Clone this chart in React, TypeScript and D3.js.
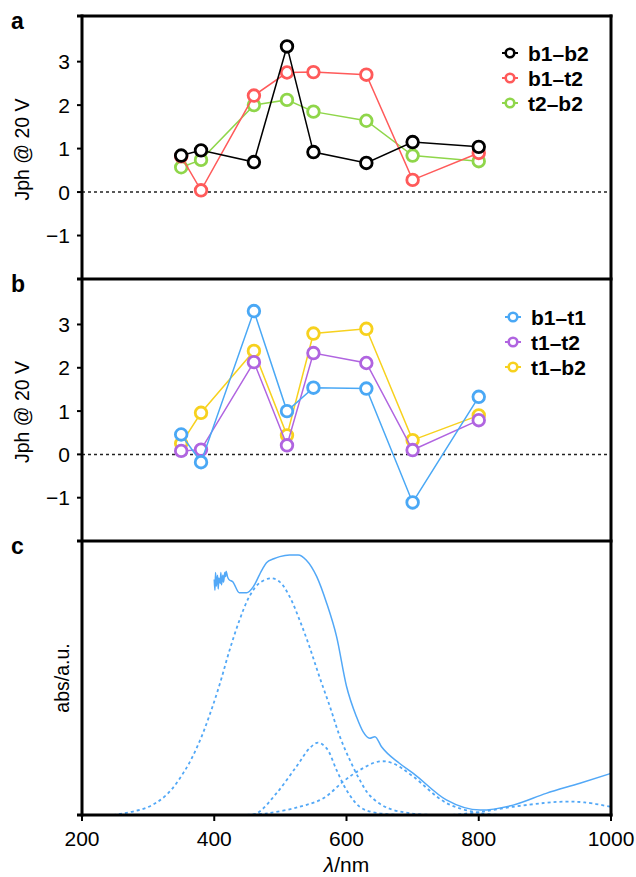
import React from 'react';
import * as d3 from 'd3';

// LED wavelengths (nm) used for the photocurrent measurements
const WAVELENGTHS = [350, 380, 460, 510, 550, 630, 700, 800];

// panel a
const B1_B2 = [0.84, 0.96, 0.69, 3.35, 0.92, 0.67, 1.15, 1.04];
const B1_T2 = [0.82, 0.04, 2.22, 2.75, 2.76, 2.7, 0.28, 0.9];
const T2_B2 = [0.57, 0.74, 2.0, 2.12, 1.85, 1.64, 0.84, 0.71];

// panel b
const B1_T1 = [0.46, -0.18, 3.31, 1.0, 1.54, 1.52, -1.11, 1.33];
const T1_T2 = [0.08, 0.11, 2.13, 0.21, 2.34, 2.11, 0.1, 0.79];
const T1_B2 = [0.25, 0.96, 2.39, 0.44, 2.79, 2.9, 0.33, 0.9];

const Y_TICKS = [-1, 0, 1, 2, 3];
const X_TICKS = [200, 400, 600, 800, 1000];

// panel c: measured absorption (solid)
const ABS_NM = [400, 401, 402, 403, 405, 406, 407, 409, 410, 411, 413, 414, 416, 417, 418, 420, 422, 428, 438, 449, 459, 472, 479, 490, 499, 514, 527, 539, 555, 570, 585, 600, 615, 625, 635, 643, 653, 680, 701, 751, 802, 852, 902, 953, 1000];
const ABS_VAL = [0.86, 0.82, 0.885, 0.835, 0.875, 0.825, 0.865, 0.845, 0.885, 0.84, 0.875, 0.85, 0.885, 0.87, 0.89, 0.87, 0.86, 0.851, 0.811, 0.811, 0.833, 0.894, 0.921, 0.935, 0.943, 0.949, 0.949, 0.931, 0.87, 0.773, 0.651, 0.47, 0.359, 0.304, 0.28, 0.286, 0.249, 0.189, 0.152, 0.055, 0.018, 0.036, 0.079, 0.116, 0.152];

// panel c: fitted components (dashed)
const FIT1_NM = [247, 297, 328, 358, 378, 393, 408, 423, 438, 453, 468, 486, 499, 514, 529, 544, 559, 575, 590, 605, 620, 635, 660, 700, 750];
const FIT1_VAL = [0, 0.026, 0.074, 0.172, 0.27, 0.365, 0.475, 0.6, 0.71, 0.797, 0.846, 0.864, 0.851, 0.797, 0.712, 0.614, 0.505, 0.395, 0.286, 0.201, 0.128, 0.072, 0.028, 0.005, 0];
const FIT2_NM = [440, 464, 494, 524, 544, 557, 570, 585, 600, 620, 640, 680];
const FIT2_VAL = [0, 0.006, 0.079, 0.176, 0.243, 0.264, 0.243, 0.164, 0.091, 0.03, 0.01, 0];
const FIT3_NM = [440, 480, 529, 565, 595, 620, 648, 670, 701, 751, 802, 840];
const FIT3_VAL = [0, 0.006, 0.03, 0.061, 0.122, 0.164, 0.195, 0.189, 0.14, 0.044, 0.007, 0];
const FIT4_NM = [760, 802, 852, 900, 932, 960, 1000];
const FIT4_VAL = [0, 0.011, 0.03, 0.044, 0.049, 0.046, 0.03];

const FONT = '"Liberation Sans", Arial, Helvetica, sans-serif';
const BLUE = '#52a8f7';

const W = 636;
const H = 877;
const LEFT = 82;
const RIGHT = 611;

const x = d3.scaleLinear().domain([200, 1000]).range([LEFT, RIGHT]);
const yA = d3.scaleLinear().domain([-2, 4.05]).range([279, 16]);
const yB = d3.scaleLinear().domain([-2, 4.05]).range([541, 279]);
const yC = d3.scaleLinear().domain([0, 1]).range([815, 541]);

type Series = { name: string; values: number[]; color: string };

const seriesA: Series[] = [
  { name: 'b1–b2', values: B1_B2, color: '#000000' },
  { name: 'b1–t2', values: B1_T2, color: '#ff5a5a' },
  { name: 't2–b2', values: T2_B2, color: '#8fd64a' },
];
const seriesB: Series[] = [
  { name: 'b1–t1', values: B1_T1, color: '#4aa8f5' },
  { name: 't1–t2', values: T1_T2, color: '#b064e0' },
  { name: 't1–b2', values: T1_B2, color: '#f7d11e' },
];

const JphPanel: React.FC<{
  y: d3.ScaleLinear<number, number>;
  series: Series[];
  letter: string;
  legendX: number;
  legendY: number;
}> = ({ y, series, letter, legendX, legendY }) => {
  const [top, bottom] = [y.range()[1], y.range()[0]];
  const line = d3
    .line<number>()
    .x((_, i) => x(WAVELENGTHS[i]))
    .y((d) => y(d));
  // last series in the list is painted first
  const drawOrder = [...series].reverse();
  return (
    <g>
      <text x={11} y={top + 13} fontSize={23} fontWeight="bold" fontFamily={FONT}>
        {letter}
      </text>
      <line x1={LEFT} x2={RIGHT} y1={y(0)} y2={y(0)} stroke="#222" strokeWidth={1.5} strokeDasharray="3,3" />
      {drawOrder.map((s) => (
        <g key={s.name}>
          <path d={line(s.values) || ''} fill="none" stroke={s.color} strokeWidth={1.5} />
          {s.values.map((v, i) => (
            <circle key={i} cx={x(WAVELENGTHS[i])} cy={y(v)} r={5.8} fill="#fff" stroke={s.color} strokeWidth={2.8} />
          ))}
        </g>
      ))}
      {Y_TICKS.map((t) => (
        <g key={t}>
          <line x1={LEFT - 5} x2={LEFT} y1={y(t)} y2={y(t)} stroke="#000" strokeWidth={2} />
          <text x={70} y={y(t) + 7.5} fontSize={21} textAnchor="end" fontFamily={FONT}>
            {t < 0 ? `−${Math.abs(t)}` : t}
          </text>
        </g>
      ))}
      <text
        transform={`translate(29,${(top + bottom) / 2 + 2}) rotate(-90)`}
        fontSize={19.5}
        textAnchor="middle"
        fontFamily={FONT}
      >
        Jph @ 20 V
      </text>
      {series.map((s, i) => (
        <g key={s.name} transform={`translate(${legendX},${legendY + i * 25})`}>
          <line x1={-8} x2={8} y1={0} y2={0} stroke={s.color} strokeWidth={2} />
          <circle r={4.3} fill="#fff" stroke={s.color} strokeWidth={2.6} />
          <text x={18} y={7.5} fontSize={21} fontWeight="bold" fontFamily={FONT}>
            {s.name}
          </text>
        </g>
      ))}
    </g>
  );
};

export default function App() {
  const abs = d3
    .line<number>()
    .x((_, i) => x(ABS_NM[i]))
    .y((d) => yC(d))
    .curve(d3.curveMonotoneX);
  const fit = (nm: number[]) =>
    d3
      .line<number>()
      .x((_, i) => x(nm[i]))
      .y((d) => yC(Math.max(0, d)))
      .curve(d3.curveCatmullRom.alpha(0.5));
  const fits: [number[], number[]][] = [
    [FIT1_NM, FIT1_VAL],
    [FIT2_NM, FIT2_VAL],
    [FIT3_NM, FIT3_VAL],
    [FIT4_NM, FIT4_VAL],
  ];

  return (
    <svg width={W} height={H} style={{ position: 'absolute', left: 0, top: 0, background: '#fff' }}>
      <JphPanel y={yA} series={seriesA} letter="a" legendX={510} legendY={53} />
      <JphPanel y={yB} series={seriesB} letter="b" legendX={513} legendY={317} />

      {/* panel c */}
      <text x={11} y={554} fontSize={23} fontWeight="bold" fontFamily={FONT}>
        c
      </text>
      {fits.map(([nm, vals], i) => (
        <path key={i} d={fit(nm)(vals) || ''} fill="none" stroke={BLUE} strokeWidth={1.8} strokeDasharray="3,3" />
      ))}
      <path d={abs(ABS_VAL) || ''} fill="none" stroke={BLUE} strokeWidth={1.5} />
      <text transform="translate(69,678) rotate(-90)" fontSize={19.5} textAnchor="middle" fontFamily={FONT}>
        abs/a.u.
      </text>
      {X_TICKS.map((t) => (
        <g key={t}>
          <line x1={x(t)} x2={x(t)} y1={815} y2={821} stroke="#000" strokeWidth={2} />
          <text x={x(t)} y={846} fontSize={21} textAnchor="middle" fontFamily={FONT}>
            {t}
          </text>
        </g>
      ))}
      <text x={x(600)} y={872} fontSize={21} textAnchor="middle" fontFamily={FONT}>
        <tspan fontStyle="italic">λ</tspan>/nm
      </text>

      {/* frames */}
      {[16, 279, 541, 815].map((yy) => (
        <line key={yy} x1={LEFT - 5} x2={RIGHT + 1.5} y1={yy} y2={yy} stroke="#000" strokeWidth={3} />
      ))}
      <line x1={LEFT} x2={LEFT} y1={14.5} y2={816.5} stroke="#000" strokeWidth={3} />
      <line x1={RIGHT} x2={RIGHT} y1={14.5} y2={816.5} stroke="#000" strokeWidth={3} />
    </svg>
  );
}
